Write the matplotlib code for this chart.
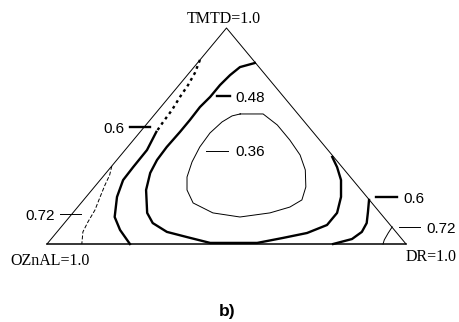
import matplotlib
matplotlib.use("Agg")
import numpy as np
from matplotlib import pyplot as plt

# contour lines, as (TMTD, DR) fractions; OZnAL = 1 - TMTD - DR
c036_tmtd = [0.602, 0.602, 0.551, 0.481, 0.412, 0.343, 0.264, 0.204, 0.171, 0.144,
             0.125, 0.144, 0.190, 0.250, 0.310, 0.380, 0.449, 0.514, 0.565, 0.593,
             0.602]
c036_dr = [0.237, 0.301, 0.366, 0.436, 0.499, 0.548, 0.589, 0.608, 0.591, 0.549,
           0.475, 0.390, 0.312, 0.265, 0.235, 0.214, 0.201, 0.197, 0.205, 0.219,
           0.237]

c048_tmtd = [0.838, 0.819, 0.782, 0.736, 0.681, 0.634, 0.574, 0.519, 0.449, 0.389,
             0.329, 0.250, 0.144, 0.097, 0.056, 0.032, 0.005, 0.005, 0.005, 0.028,
             0.051, 0.088, 0.144, 0.218, 0.296, 0.356, 0.403]
c048_dr = [0.160, 0.128, 0.119, 0.114, 0.114, 0.109, 0.111, 0.111, 0.109, 0.112,
           0.123, 0.151, 0.207, 0.246, 0.306, 0.374, 0.452, 0.516, 0.583, 0.643,
           0.699, 0.736, 0.736, 0.710, 0.671, 0.630, 0.593]

# 0.6, left branch (upper part drawn dotted, as in the source)
c06a_tmtd = [0.852, 0.792, 0.736, 0.681, 0.620, 0.565, 0.519, 0.435, 0.356, 0.296,
             0.218, 0.125, 0.065, 0.0]
c06a_dr = [0.0, 0.016, 0.025, 0.030, 0.038, 0.041, 0.045, 0.061, 0.062, 0.064,
           0.086, 0.126, 0.171, 0.231]
n_dotted = 6

# 0.6, right branch
c06b_tmtd = [0.204, 0.148, 0.097, 0.056, 0.023, 0.0]
c06b_dr = [0.795, 0.820, 0.842, 0.849, 0.838, 0.797]

# 0.72 branches
c072a_tmtd = [0.361, 0.319, 0.273, 0.218, 0.157, 0.102, 0.056, 0.0]
c072a_dr = [0.0, 0.015, 0.025, 0.039, 0.055, 0.063, 0.072, 0.097]
c072b_tmtd = [0.079, 0.051, 0.019, 0.0]
c072b_dr = [0.922, 0.925, 0.930, 0.936]


def tern(tmtd, dr):
    t = np.asarray(tmtd)
    d = np.asarray(dr)
    return d + t / 2, t


fig = plt.figure(figsize=(4.6, 3.22), dpi=100)
ax = fig.add_axes([0, 0, 1, 1])
ax.set_xlim(-0.1309, 1.1504)
ax.set_ylim(-0.3611, 1.1296)
ax.axis("off")

# triangle frame
tx, ty = tern([0, 1, 0, 0], [0, 0, 1, 0])
ax.plot(tx[:3], ty[:3], color="black", lw=0.7)
ax.plot(tx[2:], ty[2:], color="black", lw=1.1)

thick = 1.7
thin = 0.7
x, y = tern(c036_tmtd, c036_dr)
ax.plot(x, y, color="black", lw=thin)
x, y = tern(c048_tmtd, c048_dr)
ax.plot(x, y, color="black", lw=thick)
x, y = tern(c06a_tmtd, c06a_dr)
ax.plot(x[:n_dotted + 1], y[:n_dotted + 1], color="black", lw=thick,
        linestyle=(0, (1.2, 1.6)))
ax.plot(x[n_dotted:], y[n_dotted:], color="black", lw=thick)
x, y = tern(c06b_tmtd, c06b_dr)
ax.plot(x, y, color="black", lw=thick)
x, y = tern(c072a_tmtd, c072a_dr)
ax.plot(x, y, color="black", lw=thin, linestyle=(0, (4, 2)))
x, y = tern(c072b_tmtd, c072b_dr)
ax.plot(x, y, color="black", lw=thin)

# contour labels with their little ticks
lab_font = dict(family="Liberation Sans", fontsize=11, va="baseline")
ax.plot([0.474, 0.510], [0.685, 0.685], color="black", lw=thick)
ax.text(0.524, 0.657, "0.48", ha="left", **lab_font)
ax.plot([0.443, 0.504], [0.431, 0.431], color="black", lw=thin)
ax.text(0.524, 0.407, "0.36", ha="left", **lab_font)
ax.plot([0.231, 0.287], [0.542, 0.542], color="black", lw=thick)
ax.text(0.217, 0.514, "0.6", ha="right", **lab_font)
ax.plot([0.036, 0.095], [0.139, 0.139], color="black", lw=thin)
ax.text(0.022, 0.111, "0.72", ha="right", **lab_font)
ax.plot([0.916, 0.975], [0.218, 0.218], color="black", lw=thick)
ax.text(0.992, 0.190, "0.6", ha="left", **lab_font)
ax.plot([0.981, 1.039], [0.079, 0.079], color="black", lw=thin)
ax.text(1.058, 0.051, "0.72", ha="left", **lab_font)

# vertex names
vfont = dict(family="Liberation Serif", fontsize=11.5, va="baseline")
ax.text(0.493, 1.023, "TMTD=1.0", ha="center", **vfont)
ax.text(0.008, -0.097, "OZnAL=1.0", ha="center", **vfont)
ax.text(1.0, -0.079, "DR=1.0", ha="left", **vfont)

ax.text(0.501, -0.333, "b)", ha="center", va="baseline", fontsize=12.5,
        fontweight="bold", family="Liberation Sans")

plt.savefig("out.png", dpi=100)
